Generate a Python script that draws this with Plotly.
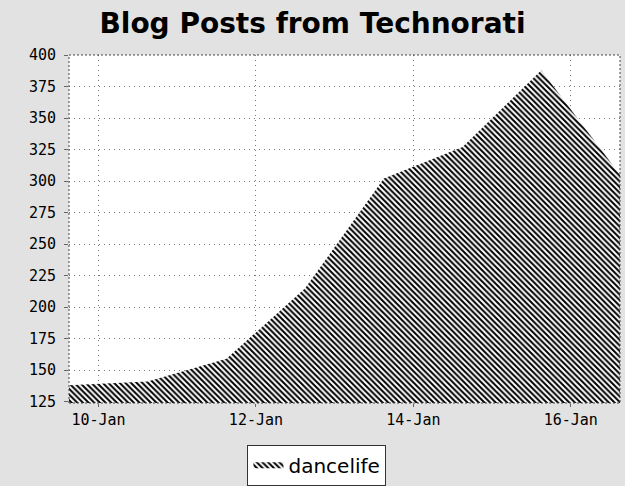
import plotly.graph_objects as go

# ---- data ----
dates = ["2006-01-09 15:00", "2006-01-10 15:00", "2006-01-11 15:00", "2006-01-12 15:00",
         "2006-01-13 15:00", "2006-01-14 15:00", "2006-01-15 15:00", "2006-01-16 15:00"]
posts = [138, 141, 159, 215, 302, 327, 388, 305]
series_name = "dancelife"
x_tick_vals = ["2006-01-10", "2006-01-12", "2006-01-14", "2006-01-16"]
x_tick_text = ["10-Jan", "12-Jan", "14-Jan", "16-Jan"]
y_tick_vals = [125, 150, 175, 200, 225, 250, 275, 300, 325, 350, 375, 400]
title_text = "Blog Posts from Technorati"

fig = go.Figure()
fig.add_trace(go.Scatter(
    x=dates, y=posts, name=series_name, mode="none",
    fill="tozeroy", fillcolor="white",
    fillpattern=dict(shape="\\", fgcolor="black", fgopacity=1, bgcolor="white",
                     size=4, solidity=0.5),
    showlegend=True,
))

fig.update_layout(
    width=625, height=486,
    margin=dict(l=69, r=5, t=55, b=83, autoexpand=False),
    paper_bgcolor="#e2e2e2",
    plot_bgcolor="white",
    title=dict(text=title_text, x=0.5, xref="container", xanchor="center",
               y=0.952, yref="container", yanchor="middle",
               font=dict(family="DejaVu Sans", size=28, color="black", weight="bold")),
    xaxis=dict(type="date", range=[dates[0], dates[-1]], automargin=False,
               tickvals=x_tick_vals, ticktext=x_tick_text,
               showgrid=True, gridcolor="#777", griddash="1px,4px", gridwidth=1,
               ticks="outside", ticklen=3, tickcolor="#666",
               tickfont=dict(family="DejaVu Sans Mono", size=15, color="black"),
               showline=False, zeroline=False),
    yaxis=dict(range=[124, 400], tickvals=y_tick_vals, automargin=False,
               showgrid=True, gridcolor="#777", griddash="1px,4px", gridwidth=1,
               ticks="outside", ticklen=4, tickcolor="#666", ticklabelstandoff=5,
               tickfont=dict(family="DejaVu Sans Mono", size=15, color="black"),
               showline=False, zeroline=False),
    legend=dict(orientation="h", x=0.45, xanchor="center", y=-0.12, yanchor="top",
                bgcolor="white", bordercolor="#333", borderwidth=1,
                font=dict(family="DejaVu Sans", size=20, color="black")),
    shapes=[dict(type="rect", xref="x domain", yref="y domain", x0=0, x1=1, y0=0, y1=1,
                 line=dict(color="#444", width=1, dash="2px,2px"), layer="above")],
)

fig.write_html("out.html", config={"displayModeBar": False},
               post_script="document.body.style.margin='0';document.body.style.overflow='hidden';")
